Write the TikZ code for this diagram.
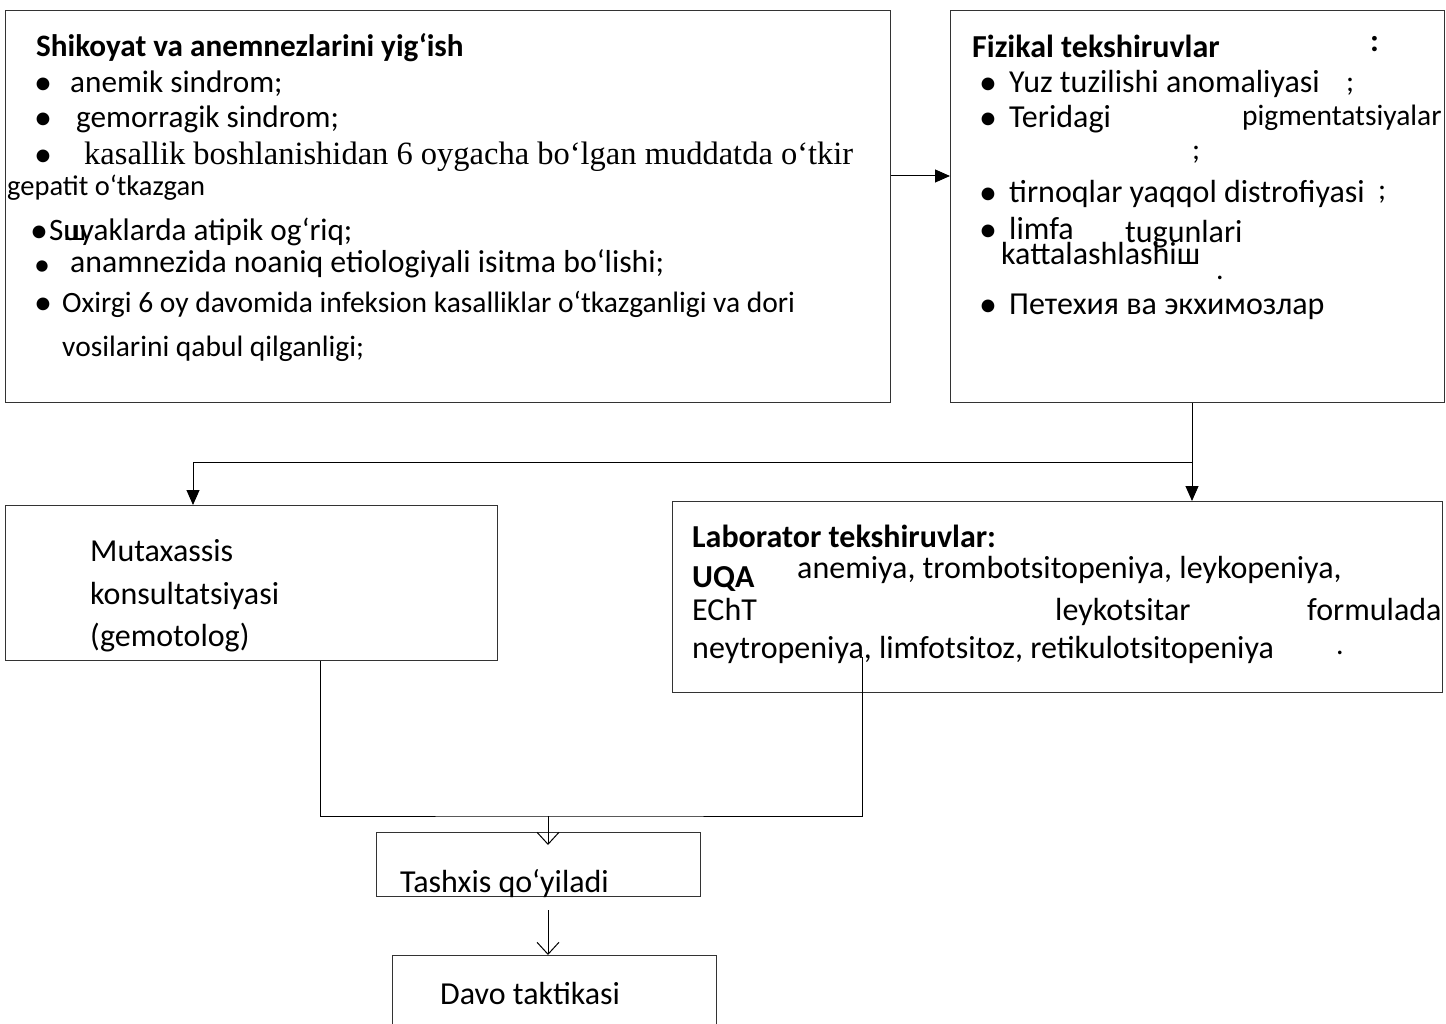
\documentclass[tikz,border=0pt]{standalone}
\usepackage{fontspec}
\setmainfont{Carlito}
\newfontfamily\timesfont{Liberation Serif}
\usetikzlibrary{arrows.meta,positioning,calc}

\newcommand{\blt}[1]{\makebox[#1][l]{\fontsize{36}{36}\selectfont\raisebox{-1.5pt}{•}}}

\begin{document}
\begin{tikzpicture}[x=1pt,y=-1pt,
    box/.style={draw=black!80, line width=1.4pt, inner sep=0pt, anchor=north west},
    txt/.style={anchor=base west, inner sep=0pt, font=\fontsize{32}{38}\selectfont},
    txtA/.style={txt, font=\fontsize{31.2}{37}\selectfont},
    txtB/.style={txt, font=\fontsize{29.5}{35}\selectfont},
    head/.style={txt, font=\fontsize{32}{38}\selectfont\bfseries},
    punct/.style={txt, font=\fontsize{30}{34}\selectfont},
    link/.style={draw=black, line width=1pt},
    fillarr/.style={link, -{Triangle[length=15pt,width=13pt]}},
    openarr/.style={link, -{Straight Barb[length=12pt,width=22pt]}}
]
    \useasboundingbox (0,0) rectangle (1446,1024);

    % Boxes
    \node[box, minimum width=885pt, minimum height=392pt] (shikoyat) at (5,10) {};
    \node[box, minimum width=494pt, minimum height=392pt] (fizikal) at (950,10) {};
    \node[box, minimum width=492pt, minimum height=155pt] (mutaxassis) at (5,505) {};
    \node[box, minimum width=770pt, minimum height=191pt] (laborator) at (672,501) {};
    \node[box, minimum width=324pt, minimum height=64pt] (tashxis) at (376,832) {};
    \node[box, minimum width=324pt, minimum height=80pt] (davo) at (392,955) {};

    % Shikoyat text
    \node[head, font=\fontsize{31.2}{37}\selectfont\bfseries] (shtitle) at (36,57) {Shikoyat va anemnezlarini yig‘ish};
    \node[txtA] (sh1) at (34,93) {\blt{36pt}anemik sindrom;};
    \node[txtA] (sh2) at (34,128) {\blt{42pt}gemorragik sindrom;};
    \node[txtA] (sh3) at (34,165) {\blt{50pt}\timesfont\fontsize{32.5}{38}\selectfont kasallik boshlanishidan 6 oygacha bo‘lgan muddatda o‘tkir};
    \node[txt, font=\fontsize{28.5}{34}\selectfont] (sh3b) at (7,196) {gepatit o‘tkazgan};
    \node[txtA] (sh4) at (30,241) {\blt{19pt}S\rlap{ш}uyaklarda atipik og‘riq;};
    \node[txtA] (sh5dot) at (34,276) {\fontsize{32}{32}\selectfont•};
    \node[txt, font=\fontsize{31.8}{37}\selectfont] (sh5) at (70,273) {anamnezida noaniq etiologiyali isitma bo‘lishi;};
    \node[txtB] (sh6) at (34,313) {\blt{28pt}Oxirgi 6 oy davomida infeksion kasalliklar o‘tkazganligi va dori};
    \node[txtB] (sh6b) at (62,356) {vosilarini qabul qilganligi;};

    % Fizikal text
    \node[head] (fztitle) at (972,58) {Fizikal tekshiruvlar};
    \node[head] (fzcolon) at (1370,52) {:};
    \node[txt] (fz1) at (979,93) {\blt{30pt}Yuz tuzilishi anomaliyasi};
    \node[punct] (fz1s) at (1346,92) {;};
    \node[txt] (fz2) at (979,128) {\blt{30pt}Teridagi};
    \node[txt, font=\fontsize{29.5}{34}\selectfont] (fz2b) at (1242,126) {pigmentatsiyalar};
    \node[punct] (fz2s) at (1192,160) {;};
    \node[txt] (fz3) at (979,203) {\blt{30pt}tirnoqlar yaqqol distrofiyasi};
    \node[punct] (fz3s) at (1378,200) {;};
    \node[txt] (fz4) at (979,240) {\blt{30pt}limfa};
    \node[txt] (fz4b) at (1125,243) {tugunlari};
    \node[txt] (fz4c) at (1001,265) {kattalashlashiш};
    \node[punct] (fz4d) at (1216,280) {.};
    \node[txt] (fz5) at (979,315) {\blt{30pt}Петехия ва экхимозлар};

    % Mutaxassis text
    \node[txt] (mt1) at (90,561) {Mutaxassis};
    \node[txt] (mt2) at (90,604) {konsultatsiyasi};
    \node[txt] (mt3) at (90,646) {(gemotolog)};

    % Laborator text
    \node[head] (lbtitle) at (692,547) {Laborator tekshiruvlar:};
    \node[head] (lbuqa) at (692,587) {UQA};
    \node[txt] (lb1) at (797,578) {anemiya, trombotsitopeniya, leykopeniya,};
    \node[txt] (lbecht) at (692,620) {EChT};
    \node[txt] (lb2) at (1055,620) {leykotsitar};
    \node[txt] (lb3) at (1307,620) {formulada};
    \node[txt] (lb4) at (692,658) {neytropeniya, limfotsitoz, retikulotsitopeniya};
    \node[punct] (lbdot) at (1336,654) {.};

    % Bottom boxes text
    \node[txt] (tstext) at (400,892) {Tashxis qo‘yiladi};
    \node[txt] (dvtext) at (440,1004) {Davo taktikasi};

    % Connectors
    \coordinate (split) at (1192,462);
    \coordinate (join) at (548,816);
    \draw[fillarr] (shikoyat.east |- 0,176) -- (fizikal.west |- 0,176);
    \draw[link] (fizikal.south -| split) -- (split);
    \draw[fillarr] (split) -| (mutaxassis.north -| 193,0);
    \draw[fillarr] (split) -- (laborator.north -| split);
    \draw[link] (mutaxassis.south -| 320,0) |- (join) -| (862,657);
    \draw[openarr] (join) -- (548,845);
    \draw[openarr] (tashxis.south -| 548,0) ++(0,13) -- (davo.north -| 548,0);
\end{tikzpicture}
\end{document}
